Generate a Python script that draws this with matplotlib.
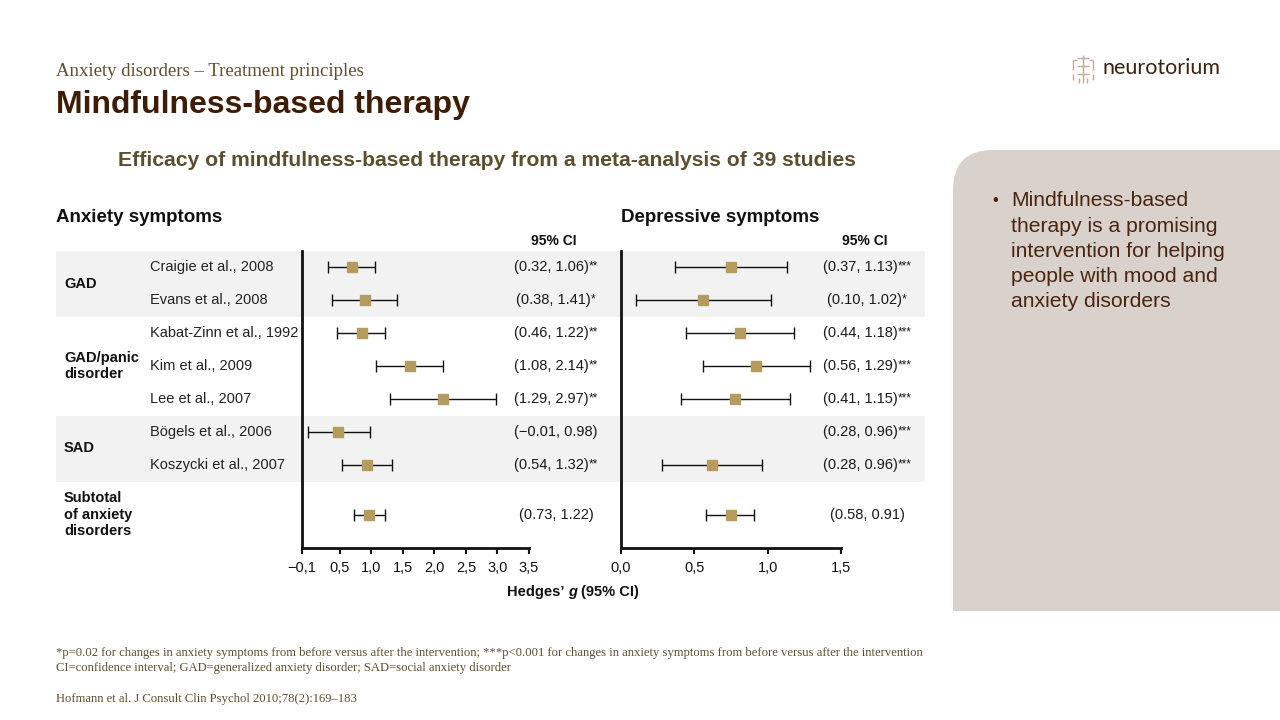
#!/usr/bin/env python

import numpy as np
import matplotlib
matplotlib.use('Agg')
import matplotlib.pyplot as plt
import matplotlib.patches as patches
import matplotlib.transforms as mtransforms
from matplotlib.path import Path
from matplotlib.offsetbox import TextArea, HPacker, AnnotationBbox

# ---- data ----
studies = ['Craigie et al., 2008', 'Evans et al., 2008', 'Kabat-Zinn et al., 1992',
           'Kim et al., 2009', 'Lee et al., 2007', 'Bögels et al., 2006',
           'Koszycki et al., 2007', '']
rows = [0, 1, 2, 3, 4, 5, 6, 7.5]

groups = ['GAD', 'GAD/panic\ndisorder', 'SAD', 'Subtotal\nof anxiety\ndisorders']
group_rows = [0.5, 3, 5.5, 7.5]
band_rows = [(-0.5, 1.5), (4.5, 6.5)]

anx_est = [0.70, 0.90, 0.85, 1.62, 2.14, 0.47, 0.93, 0.97]
anx_lo = [0.32, 0.38, 0.46, 1.08, 1.29, -0.01, 0.54, 0.73]
anx_hi = [1.06, 1.41, 1.22, 2.14, 2.97, 0.98, 1.32, 1.22]
anx_stars = ['**', '*', '**', '**', '**', '', '**', '']
anx_ticks = [-0.1, 0.5, 1.0, 1.5, 2.0, 2.5, 3.0, 3.5]

dep_est = [0.75, 0.56, 0.81, 0.92, 0.78, np.nan, 0.62, 0.75]
dep_lo = [0.37, 0.10, 0.44, 0.56, 0.41, 0.28, 0.28, 0.58]
dep_hi = [1.13, 1.02, 1.18, 1.29, 1.15, 0.96, 0.96, 0.91]
dep_stars = ['***', '*', '***', '***', '***', '***', '***', '']
dep_ticks = [0.0, 0.5, 1.0, 1.5]

bullet_lines = ['Mindfulness-based', 'therapy is a promising', 'intervention for helping',
                'people with mood and', 'anxiety disorders']

footnotes = ['*p=0.02 for changes in anxiety symptoms from before versus after the intervention; '
             '***p<0.001 for changes in anxiety symptoms from before versus after the intervention',
             'CI=confidence interval; GAD=generalized anxiety disorder; SAD=social anxiety disorder']
citation = 'Hofmann et al. J Consult Clin Psychol 2010;78(2):169\u2013183'

W, H = 1280, 720
MARKER = '#b59c5e'
BAND = '#f2f2f2'
BROWN = '#3f1c06'
OLIVE = '#5c4f30'
INK = '#1a1a1a'

plt.rcParams['font.family'] = ['Liberation Sans', 'DejaVu Sans']


def px_axes(fig, x0, y0, x1, y1):
	""" Adds an axes given in slide pixel coordinates (y downwards) """
	return fig.add_axes([x0 / W, 1 - y1 / H, (x1 - x0) / W, (y1 - y0) / H])


def fmt_tick(v, pos=None):
	return f'{v:.1f}'.replace('.', ',').replace('-', '\u2212')


def fmt_ci(lo, hi):
	return f'({lo:.2f}, {hi:.2f})'.replace('-', '\u2212')


def ci_column(bg, tr, x, lo, hi, stars):
	""" Writes the CI strings, with small raised stars after them """
	for r, l, h, st in zip(rows, lo, hi, stars):
		#keep the whole string (with stars) centred on x
		t = bg.text(x - 2.3 * len(st), r, fmt_ci(l, h), transform=tr, fontsize=10.5, color=INK,
					va='center', ha='center')
		if st:
			bg.annotate(st, xy=(1, 1.0), xycoords=t, fontsize=8.5, color=INK,
						ha='left', va='top')


def forest(ax, est, lo, hi, xlim, ticks):
	""" Draws one forest panel """
	est = np.array(est)
	lo = np.array(lo)
	hi = np.array(hi)
	y = np.array(rows)
	ok = ~np.isnan(est)
	ax.errorbar(est[ok], y[ok], xerr=[est[ok] - lo[ok], hi[ok] - est[ok]],
				fmt='none', ecolor='#111111', elinewidth=1.0, capsize=4, capthick=1.0, zorder=2)
	ax.plot(est[ok], y[ok], 's', color=MARKER, markersize=7.2, zorder=3)
	ax.set_xlim(*xlim)
	ax.set_ylim(8.5, -0.5)
	ax.set_xticks(ticks)
	ax.xaxis.set_major_formatter(plt.FuncFormatter(fmt_tick))
	ax.set_yticks([])
	ax.set_facecolor('none')
	for s in ['top', 'right']:
		ax.spines[s].set_visible(False)
	for s in ['left', 'bottom']:
		ax.spines[s].set_linewidth(2.0)
		ax.spines[s].set_color('#111111')
	ax.tick_params(axis='x', direction='out', length=4.5, width=1.5, pad=5,
				   labelsize=10.5, colors='#111111')


def draw_logo(bg):
	""" Small neurotorium icon and wordmark """
	c = '#c2a999'
	segs = [[(1083, 55), (1083, 83)], [(1077, 58), (1089, 58)], [(1077, 66), (1089, 66)],
			[(1077, 74), (1089, 74)], [(1073, 60), (1073, 70)], [(1093, 60), (1093, 70)],
			[(1073, 74), (1073, 80)], [(1093, 74), (1093, 80)], [(1073, 60), (1077, 60)],
			[(1089, 60), (1093, 60)], [(1079, 78), (1079, 83)], [(1087, 78), (1087, 83)]]
	for s in segs:
		xs, ys = zip(*s)
		bg.plot(xs, ys, color=c, lw=1.0, solid_capstyle='butt')
	bg.text(1103, 68, 'neurotorium', fontsize=15.5, color='#3b2212', va='center',
			ha='left', family=['Lato', 'DejaVu Sans'])


def main():
	fig = plt.figure(figsize=(W / 100, H / 100), dpi=100)

	bg = fig.add_axes([0, 0, 1, 1])
	bg.set_xlim(0, W)
	bg.set_ylim(H, 0)
	bg.axis('off')

	axl = px_axes(fig, 302, 250.5, 529, 547.5)
	axr = px_axes(fig, 621, 250.5, 841, 547.5)
	tr = mtransforms.blended_transform_factory(bg.transData, axl.transData)

	# shaded group bands across the table
	for y0, y1 in band_rows:
		bg.add_patch(patches.Rectangle((56, y0), 869, y1 - y0, transform=tr,
									   facecolor=BAND, edgecolor='none', zorder=0))

	forest(axl, anx_est, anx_lo, anx_hi, (-0.1, 3.5), anx_ticks)
	forest(axr, dep_est, dep_lo, dep_hi, (0.0, 1.5), dep_ticks)

	# table text
	for name, r in zip(studies, rows):
		bg.text(150, r, name, transform=tr, fontsize=10.5, color='#222222', va='center', ha='left')
	for g, r in zip(groups, group_rows):
		bg.text(64, r, g, transform=tr, fontsize=10.5, fontweight='bold', color='#111111',
				va='center', ha='left', linespacing=1.2)
	ci_column(bg, tr, 556, anx_lo, anx_hi, anx_stars)
	ci_column(bg, tr, 867, dep_lo, dep_hi, dep_stars)

	bg.text(554, 241, '95% CI', fontsize=10, fontweight='bold', ha='center', va='center', color='#111111')
	bg.text(865, 241, '95% CI', fontsize=10, fontweight='bold', ha='center', va='center', color='#111111')
	bg.text(56, 218, 'Anxiety symptoms', fontsize=13.5, fontweight='bold', ha='left', va='center', color='#111111')
	bg.text(621, 218, 'Depressive symptoms', fontsize=13.5, fontweight='bold', ha='left', va='center', color='#111111')

	# x label with italic g
	parts = [TextArea('Hedges\u2019', textprops=dict(fontsize=10.5, fontweight='bold', color='#111111')),
			 TextArea('g', textprops=dict(fontsize=10.5, fontweight='bold', fontstyle='italic', color='#111111')),
			 TextArea('(95% CI)', textprops=dict(fontsize=10.5, fontweight='bold', color='#111111'))]
	box = HPacker(children=parts, pad=0, sep=3, align='baseline')
	bg.add_artist(AnnotationBbox(box, (573, 592), xycoords='data', frameon=False,
								 box_alignment=(0.5, 0.5), pad=0))

	# slide header
	bg.text(56, 76, 'Anxiety disorders \u2013 Treatment principles', fontsize=13.5, color=OLIVE,
			family=['Liberation Serif', 'DejaVu Serif'], ha='left', va='baseline')
	bg.text(56, 113, 'Mindfulness-based therapy', fontsize=23, fontweight='bold', color=BROWN,
			ha='left', va='baseline')
	bg.text(487, 161, 'Efficacy of mindfulness-based therapy from a meta-analysis of 39 studies',
			fontsize=15.2, fontweight='bold', color=OLIVE, ha='center', va='center')

	draw_logo(bg)

	# right side panel with rounded top-left corner
	verts = [(953, 611), (953, 190), (953, 150), (993, 150), (1280, 150), (1280, 611), (953, 611)]
	codes = [Path.MOVETO, Path.LINETO, Path.CURVE3, Path.CURVE3, Path.LINETO, Path.LINETO, Path.CLOSEPOLY]
	bg.add_patch(patches.PathPatch(Path(verts, codes), facecolor='#d9d1cb', edgecolor='none', zorder=0))
	bg.text(995, 201, '\u2022', fontsize=12, color='#4a2511', ha='center', va='center')
	for i, line in enumerate(bullet_lines):
		bg.text(1011, 201 + i * 25.2, line, fontsize=15.2, color='#4a2511', ha='left', va='center')

	# footnotes
	for i, line in enumerate(footnotes):
		bg.text(56, 653 + i * 15, line, fontsize=9.1, color=OLIVE, ha='left', va='center',
				family=['Liberation Serif', 'DejaVu Serif'])
	bg.text(56, 699, citation, fontsize=9.1, color=OLIVE, ha='left', va='center',
			family=['Liberation Serif', 'DejaVu Serif'])

	fig.savefig('out.png', dpi=100)


if __name__ == '__main__':
	main()
